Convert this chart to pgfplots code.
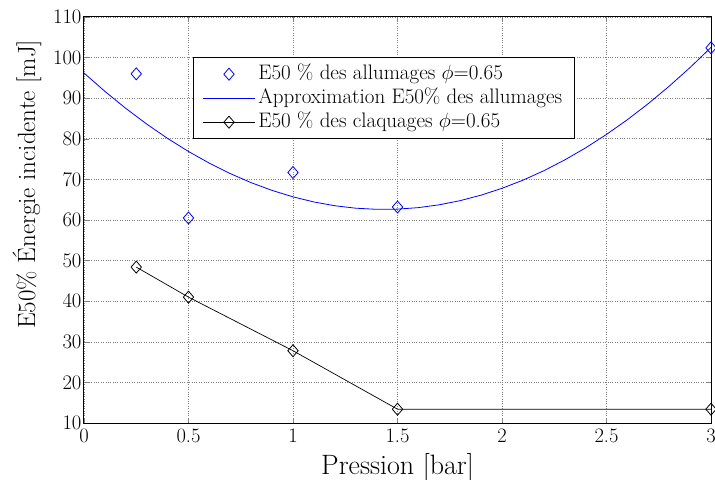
\documentclass[border=0pt]{standalone}
\usepackage{pgfplots}
\pgfplotsset{compat=1.18}
\begin{document}
\begin{tikzpicture}
\begin{axis}[
  at={(0,0)}, anchor=south west,
  scale only axis,
  width=627bp, height=406bp,
  xmin=0, xmax=3, ymin=10, ymax=110,
  xtick={0,0.5,1,1.5,2,2.5,3},
  ytick={10,20,...,110},
  xticklabels={0,0.5,1,1.5,2,2.5,3},
  tick label style={font=\fontsize{20.5bp}{22bp}\selectfont},
  xticklabel style={yshift=-2bp},
  yticklabel style={xshift=1bp},
  major tick length=5bp,
  tick align=inside,
  axis line style={line width=1bp, black},
  grid=major,
  major grid style={gray, dotted, line width=0.6bp},
  xlabel={Pression [bar]},
  ylabel={E50\% Énergie incidente [mJ]},
  xlabel style={font=\fontsize{28bp}{30bp}\selectfont, at={(axis description cs:0.5,-0.128)}, anchor=base},
  ylabel style={font=\fontsize{25bp}{28bp}\selectfont, at={(axis description cs:-0.091,0.588)}, anchor=center},
  legend image code/.code={\draw[mark repeat=2,mark phase=2,#1] plot coordinates {(0bp,0bp) (26bp,0bp) (52bp,0bp)};},
  legend cell align=left,
  legend style={at={(axis description cs:0.174,0.901)}, anchor=north west,
    font=\fontsize{21bp}{22bp}\selectfont, draw=black, line width=1bp, fill=white,
    inner xsep=9bp, inner ysep=4.5bp, row sep=0pt,
    nodes={text height=14bp, text depth=3.5bp, inner xsep=3bp, inner ysep=3.25bp}},
]
\addplot[only marks, blue, mark=diamond, mark size=6bp, mark options={xscale=1.15, line width=0.8bp}]
  coordinates {(0.25,96) (0.5,60.5) (1,71.7) (1.5,63.2) (3,102.4)};
\addlegendentry{E50 \% des allumages $\phi$=0.65}
\addplot[blue, line width=0.8bp, no marks] coordinates {
(0,96.2) (0.1,91.683) (0.2,87.492) (0.3,83.627) (0.4,80.088) (0.5,76.875)
(0.6,73.988) (0.7,71.427) (0.8,69.192) (0.9,67.283) (1.0,65.7)
(1.1,64.443) (1.2,63.512) (1.3,62.907) (1.4,62.628) (1.5,62.675)
(1.6,63.048) (1.7,63.747) (1.8,64.772) (1.9,66.123) (2.0,67.8)
(2.1,69.803) (2.2,72.132) (2.3,74.787) (2.4,77.768) (2.5,81.075)
(2.6,84.708) (2.7,88.667) (2.8,92.952) (2.9,97.563) (3.0,102.5)};
\addlegendentry{Approximation E50\% des allumages}
\addplot[black, line width=0.7bp, mark=diamond, mark size=6bp, mark options={xscale=1.15, line width=0.8bp, fill=none}]
  coordinates {(0.25,48.4) (0.5,41) (1,27.8) (1.5,13.4) (3,13.4)};
\addlegendentry{E50 \% des claquages $\phi$=0.65}
\end{axis}
\pgfresetboundingbox
\path[use as bounding box] (-84bp,-57bp) rectangle (631bp,423bp);
\end{tikzpicture}
\end{document}
